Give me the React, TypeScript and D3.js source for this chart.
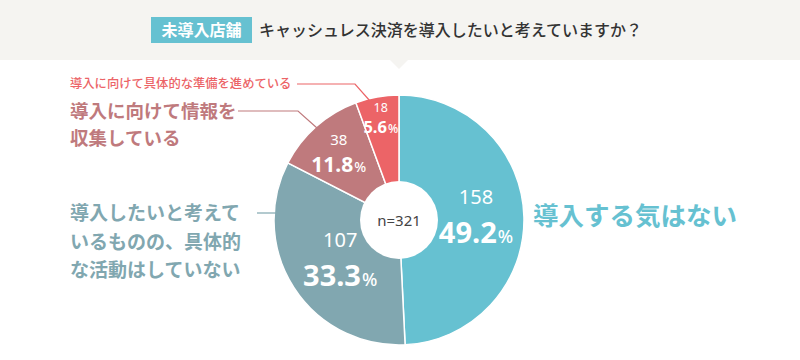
import React, { useEffect } from "react";
import * as d3 from "d3";

const categories = [
  "導入する気はない",
  "導入したいと考えているものの、具体的な活動はしていない",
  "導入に向けて情報を収集している",
  "導入に向けて具体的な準備を進めている",
];
const counts = [158, 107, 38, 18];
const percents = ["49.2", "33.3", "11.8", "5.6"];
const colors = ["#66c1d1", "#81a7b0", "#bf7a7d", "#ec6467"];
const total = 321;

const W = 800, H = 360;
const cx = 399, cy = 220, R = 125, r0 = 39;

export default function App() {
  useEffect(() => {
    document.body.style.margin = "0";
  }, []);
  const pie = d3.pie<number>().sort(null).value((d) => d)(counts);
  const arc = d3.arc<d3.PieArcDatum<number>>().innerRadius(0).outerRadius(R);
  const font = "'Noto Sans CJK JP', 'Noto Sans', sans-serif";
  const numFont = "'Noto Sans', 'Open Sans', sans-serif";

  const labelR = [77, 70, 91, 104];
  const sizes = [
    { n: 20, p: 29, ps: 18, gap: 36 },
    { n: 20, p: 29, ps: 18, gap: 36 },
    { n: 15, p: 21, ps: 14, gap: 25 },
    { n: 12.5, p: 16.5, ps: 12, gap: 19 },
  ];

  return (
    <svg width={W} height={H} style={{ display: "block", fontFamily: font }}>
      <rect x={0} y={0} width={W} height={H} fill="#ffffff" />
      <rect x={0} y={0} width={W} height={60} fill="#f5f4f1" />
      <path d={`M${cx - 9},60 L${cx + 9},60 L${cx},69 Z`} fill="#f5f4f1" />
      <rect x={151} y={17} width={101} height={26} fill="#66c1d1" />
      <text x={201.5} y={36} textAnchor="middle" fontSize={16} fontWeight={700} fill="#fff">
        未導入店舗
      </text>
      <text x={259} y={36} fontSize={16} fill="#333" fontWeight={500}>
        キャッシュレス決済を導入したいと考えていますか？
      </text>

      <g transform={`translate(${cx},${cy})`}>
        {pie.map((p, i) => (
          <path key={i} d={arc(p) || ""} fill={colors[i]} stroke="#fff" strokeWidth={1.5} />
        ))}
        <circle r={r0} fill="#fff" />
        <text y={6} textAnchor="middle" fontSize={15} fill="#444" fontFamily={numFont}>
          n={total}
        </text>
        {pie.map((p, i) => {
          const a = (p.startAngle + p.endAngle) / 2;
          const x = Math.sin(a) * labelR[i];
          const y = -Math.cos(a) * labelR[i];
          const s = sizes[i];
          return (
            <g key={"l" + i} transform={`translate(${x},${y - (i === 0 ? 3 : 0)})`} fill="#fff" fontFamily={numFont}>
              <text y={-s.gap / 2 + s.n * 0.35} textAnchor="middle" fontSize={s.n}>
                {counts[i]}
              </text>
              <text y={s.gap / 2 + s.p * 0.35} textAnchor="middle" fontSize={s.p} fontWeight={700}>
                {percents[i]}
                <tspan fontSize={s.ps} fontWeight={500} dx={1}>%</tspan>
              </text>
            </g>
          );
        })}
      </g>

      {/* Right label */}
      <text x={533} y={225} fontSize={25.5} fontWeight={700} fill={colors[0]}>
        {categories[0]}
      </text>

      {/* Left label 107 */}
      <g fontSize={19} fontWeight={700} fill={colors[1]}>
        <text x={70} y={220}>導入したいと考えて</text>
        <text x={70} y={249}>いるものの、具体的</text>
        <text x={70} y={277}>な活動はしていない</text>
      </g>
      <line x1={257} y1={213} x2={276} y2={213} stroke={colors[1]} strokeWidth={1.2} />

      {/* Label 38 */}
      <g fontSize={18.5} fontWeight={700} fill={colors[2]}>
        <text x={70} y={118}>導入に向けて情報を</text>
        <text x={70} y={145}>収集している</text>
      </g>
      <polyline points="238,111 298,111 317,128" fill="none" stroke={colors[2]} strokeWidth={1.2} />

      {/* Label 18 */}
      <text x={70} y={88} fontSize={12.3} fontWeight={500} fill={colors[3]}>
        {categories[3]}
      </text>
      <polyline points="297,84 355,84 370,101" fill="none" stroke={colors[3]} strokeWidth={1.2} />
    </svg>
  );
}
